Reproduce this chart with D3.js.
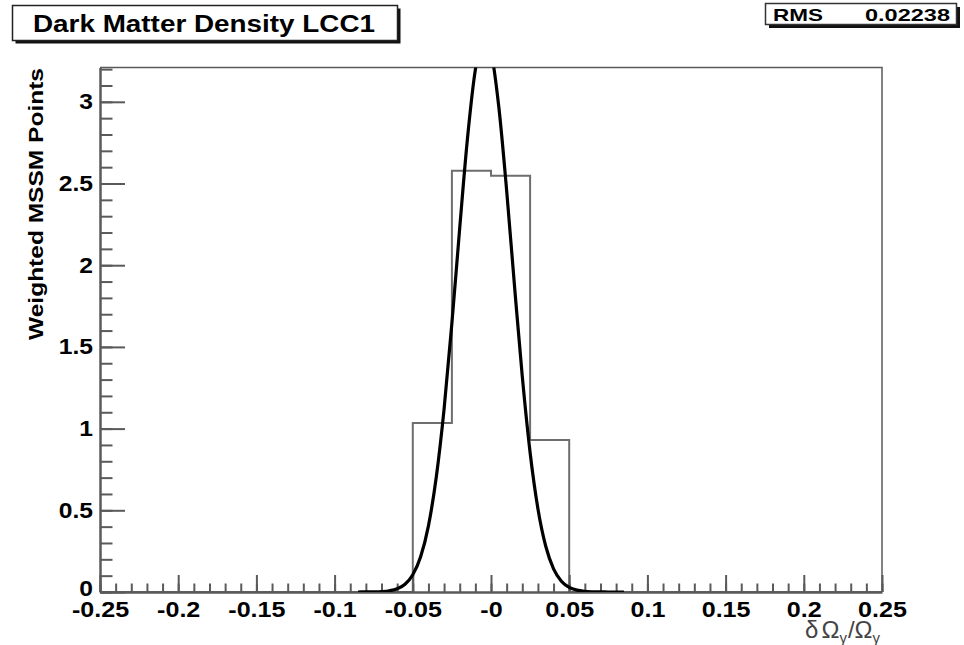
<!DOCTYPE html>
<html>
<head>
<meta charset="utf-8">
<script src="https://cdn.jsdelivr.net/npm/d3@7"></script>
<style>
  html, body { margin: 0; padding: 0; background: #fff; }
  svg { display: block; }
  text { font-family: "Liberation Sans", Arial, sans-serif; }
</style>
</head>
<body>
<svg id="chart" width="964" height="645"></svg>
<script>
// ---------------- data ----------------
const chartTitle = "Dark Matter Density LCC1";
const statLabel = "RMS";
const statValue = "0.02238";
const yTitle = "Weighted MSSM Points";

// histogram: 20 bins, width 0.025, from -0.25 to 0.25
const binEdges = [-0.25, -0.225, -0.2, -0.175, -0.15, -0.125, -0.1, -0.075, -0.05, -0.025,
                  0, 0.025, 0.05, 0.075, 0.1, 0.125, 0.15, 0.175, 0.2, 0.225, 0.25];
const binValues = [0, 0, 0, 0, 0, 0, 0, 0, 1.035, 2.578,
                   2.547, 0.93, 0, 0, 0, 0, 0, 0, 0, 0];

// fitted curve
const fitX = [-0.085, -0.08, -0.075, -0.07, -0.065, -0.06, -0.055, -0.05, -0.045, -0.04,
              -0.035, -0.03, -0.025, -0.02, -0.015, -0.01, -0.005, 0, 0.005, 0.01,
              0.015, 0.02, 0.025, 0.03, 0.035, 0.04, 0.045, 0.05, 0.055, 0.06,
              0.065, 0.07, 0.075, 0.08, 0.085];
const fitY = [0.0001, 0.0003, 0.0009, 0.0027, 0.0076, 0.0198, 0.0477, 0.1056, 0.2155, 0.405,
              0.702, 1.119, 1.645, 2.228, 2.780, 3.196, 3.385, 3.302, 2.968, 2.458,
              1.876, 1.319, 0.854, 0.510, 0.280, 0.1418, 0.0662, 0.0285, 0.0113, 0.0041,
              0.0014, 0.0004, 0.0001, 0, 0];

const xMajorTicks = [-0.25, -0.2, -0.15, -0.1, -0.05, 0, 0.05, 0.1, 0.15, 0.2, 0.25];
const xTickLabels = ["-0.25", "-0.2", "-0.15", "-0.1", "-0.05", "-0", "0.05", "0.1", "0.15", "0.2", "0.25"];
const xMinorTicks = d3.range(-25, 26).map(i => i / 100);
const yMajorTicks = [0, 0.5, 1, 1.5, 2, 2.5, 3];
const yTickLabels = ["0", "0.5", "1", "1.5", "2", "2.5", "3"];
const yMinorTicks = d3.range(0, 33).map(i => i / 10);

// ---------------- layout ----------------
const svg = d3.select("#chart");
const frame = { left: 100, right: 882, top: 67.5, bottom: 592 };
const x = d3.scaleLinear().domain([-0.25, 0.25]).range([frame.left, frame.right]);
const y = d3.scaleLinear().domain([0, 3.21]).range([frame.bottom, frame.top]);
const axisColor = "#5a5a5a";

function stretch(sel, factor) {
  sel.each(function () {
    const len = this.getComputedTextLength();
    d3.select(this).attr("textLength", len * factor).attr("lengthAdjust", "spacingAndGlyphs");
  });
}

svg.append("defs").append("clipPath").attr("id", "plotclip")
  .append("rect")
  .attr("x", frame.left).attr("y", frame.top)
  .attr("width", frame.right - frame.left).attr("height", frame.bottom - frame.top);

// frame top & right
svg.append("path")
  .attr("d", `M${frame.left},${frame.top}H${frame.right}V${frame.bottom}`)
  .attr("fill", "none").attr("stroke", axisColor).attr("stroke-width", 1.5);

// histogram step line
const histPts = [];
binValues.forEach((v, i) => { histPts.push([binEdges[i], v]); histPts.push([binEdges[i + 1], v]); });
const histLine = d3.line().x(d => x(d[0])).y(d => y(d[1]));
svg.append("path")
  .attr("d", histLine(histPts))
  .attr("fill", "none").attr("stroke", "#6e6e6e").attr("stroke-width", 2);

// axes
const gx = svg.append("g").attr("transform", `translate(0,${frame.bottom})`);
gx.call(d3.axisBottom(x).tickValues(xMinorTicks).tickSize(-8.5).tickFormat("").tickSizeOuter(0));
gx.selectAll(".domain").remove();
const gx2 = svg.append("g").attr("transform", `translate(0,${frame.bottom})`);
gx2.call(d3.axisBottom(x).tickValues(xMajorTicks).tickSize(-17).tickSizeOuter(0)
  .tickPadding(9.5).tickFormat((d, i) => xTickLabels[i]));
[gx, gx2].forEach(g => {
  g.selectAll(".tick line").attr("stroke", axisColor).attr("stroke-width", 2);
});
gx2.select(".domain").attr("stroke", axisColor).attr("stroke-width", 2.5);
gx2.selectAll("text").attr("font-size", 22).attr("font-weight", "bold").attr("fill", "#000")
  .attr("font-family", "Liberation Sans, Arial, sans-serif");
stretch(gx2.selectAll("text"), 1.14);

const gy = svg.append("g").attr("transform", `translate(${frame.left},0)`);
gy.call(d3.axisLeft(y).tickValues(yMinorTicks).tickSize(-12.5).tickFormat("").tickSizeOuter(0));
gy.selectAll(".domain").remove();
const gy2 = svg.append("g").attr("transform", `translate(${frame.left},0)`);
gy2.call(d3.axisLeft(y).tickValues(yMajorTicks).tickSize(-25).tickSizeOuter(0)
  .tickPadding(7).tickFormat((d, i) => yTickLabels[i]));
[gy, gy2].forEach(g => {
  g.selectAll(".tick line").attr("stroke", axisColor).attr("stroke-width", 2);
});
gy2.select(".domain").attr("stroke", axisColor).attr("stroke-width", 2.5);
gy2.selectAll("text").attr("font-size", 22).attr("font-weight", "bold").attr("fill", "#000")
  .attr("font-family", "Liberation Sans, Arial, sans-serif");
gy2.selectAll("text").filter((d, i) => i === 0).attr("dy", "0.18em");
stretch(gy2.selectAll("text"), 1.12);

// fitted curve
const fitLine = d3.line().x((d, i) => x(fitX[i])).y(d => y(d)).curve(d3.curveMonotoneX);
svg.append("path")
  .attr("clip-path", "url(#plotclip)")
  .attr("d", fitLine(fitY))
  .attr("fill", "none").attr("stroke", "#000").attr("stroke-width", 3.2)
  .attr("stroke-linejoin", "round");

// title box
svg.append("rect").attr("x", 15.5).attr("y", 8.5).attr("width", 385).attr("height", 35).attr("fill", "#111");
svg.append("rect").attr("x", 12.5).attr("y", 5.5).attr("width", 385).attr("height", 35)
  .attr("fill", "#fff").attr("stroke", "#222").attr("stroke-width", 1.5);
svg.append("text").attr("x", 33).attr("y", 32)
  .attr("font-size", 23).attr("font-weight", "bold").attr("fill", "#000")
  .attr("textLength", 342).attr("lengthAdjust", "spacingAndGlyphs")
  .text(chartTitle);

// stats box
svg.append("rect").attr("x", 769).attr("y", 7).attr("width", 191).attr("height", 21).attr("fill", "#111");
svg.append("rect").attr("x", 765.5).attr("y", 3.5).attr("width", 191).attr("height", 21)
  .attr("fill", "#fff").attr("stroke", "#333").attr("stroke-width", 1.5);
svg.append("text").attr("x", 773).attr("y", 21)
  .attr("font-size", 17).attr("font-weight", "bold").attr("fill", "#000")
  .attr("textLength", 50).attr("lengthAdjust", "spacingAndGlyphs")
  .text(statLabel);
svg.append("text").attr("x", 950).attr("y", 21).attr("text-anchor", "end")
  .attr("font-size", 17).attr("font-weight", "bold").attr("fill", "#000")
  .attr("textLength", 85).attr("lengthAdjust", "spacingAndGlyphs")
  .text(statValue);

// y title
svg.append("text")
  .attr("transform", "translate(43,340) rotate(-90)")
  .attr("font-size", 21).attr("font-weight", "bold").attr("fill", "#000")
  .attr("textLength", 272).attr("lengthAdjust", "spacingAndGlyphs")
  .text(yTitle);

// x title  δΩγ/Ωγ
const xt = svg.append("text").attr("x", 880).attr("y", 638).attr("text-anchor", "end")
  .attr("font-family", "Liberation Serif, Times New Roman, serif")
  .attr("font-size", 24).attr("fill", "#444");
xt.append("tspan").text("δ");
xt.append("tspan").attr("dx", 3).text("Ω");
xt.append("tspan").attr("font-size", 15).attr("dy", 5).text("γ");
xt.append("tspan").attr("dy", -5).attr("dx", 1).text("/Ω");
xt.append("tspan").attr("font-size", 15).attr("dy", 5).text("γ");
</script>
</body>
</html>
